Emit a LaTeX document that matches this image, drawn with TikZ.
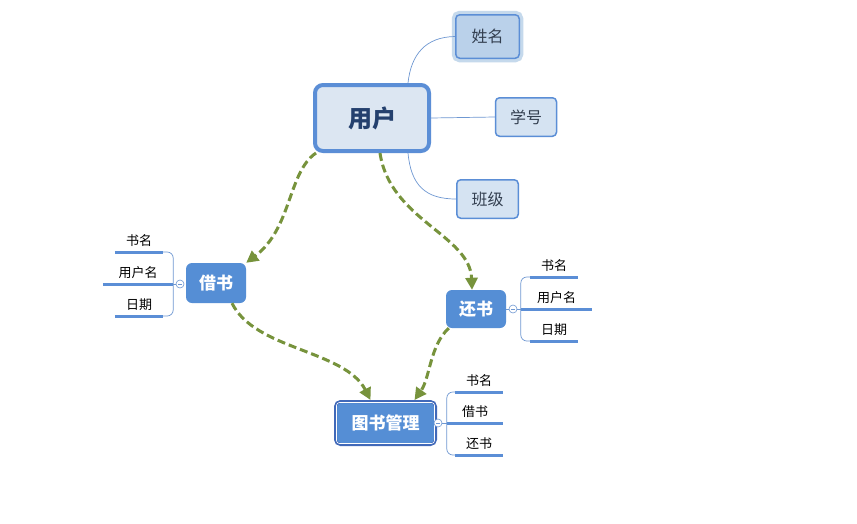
\documentclass[tikz,border=0pt]{standalone}
\usepackage{fontspec}
\setmainfont{Noto Sans CJK SC}
\usetikzlibrary{arrows.meta, positioning}
\definecolor{mainblue}{HTML}{5B8ED6}
\definecolor{stemblue}{HTML}{6F98D2}
\definecolor{userfill}{HTML}{DCE6F2}
\definecolor{boxfill}{HTML}{D5E3F2}
\definecolor{halo}{HTML}{C5D9EC}
\definecolor{topicblue}{HTML}{558ED5}
\definecolor{darkframe}{HTML}{4169B9}
\definecolor{olive}{HTML}{77933C}
\definecolor{usertext}{HTML}{24406E}
\definecolor{boxtext}{HTML}{333F50}

\begin{document}
\begin{tikzpicture}[
    x=1pt, y=-1pt,
    central/.style={draw=mainblue, fill=userfill, line width=4pt, rounded corners=8pt,
        minimum width=114pt, minimum height=66pt, text=usertext,
        font=\fontsize{24}{26}\selectfont\bfseries},
    attr/.style={draw=mainblue, fill=boxfill, line width=1.5pt, rounded corners=4pt,
        minimum width=61pt, minimum height=38.5pt, text=boxtext,
        font=\fontsize{16}{18}\selectfont},
    topic/.style={fill=topicblue, rounded corners=6pt, minimum width=60pt,
        minimum height=40pt, text=white, font=\fontsize{17}{19}\selectfont\bfseries},
    leaf/.style={anchor=south, inner xsep=0pt, inner ysep=4.5pt, text height=9.5pt,
        text depth=2pt, font=\fontsize{13}{15}\selectfont},
    fold/.style={circle, draw=stemblue, fill=white, minimum size=8pt, inner sep=0pt,
        line width=0.6pt, path picture={\draw[stemblue, line width=0.5pt]
        ([xshift=-2pt]path picture bounding box.center) --
        ([xshift=2pt]path picture bounding box.center);}},
    stem/.style={draw=stemblue, line width=0.7pt},
    underline/.style={draw=mainblue, line width=3pt},
    flow/.style={-{Triangle[length=12pt, width=12pt]}, draw=olive, line width=3pt,
        dash pattern=on 8pt off 4pt}
]
\fill[white] (0,0) rectangle (857,523);
\useasboundingbox (0,0) rectangle (857,523);

% User and its attributes
\node[central] (user) at (372,118) {用户};
\node[attr, minimum width=63.5pt, minimum height=43.5pt, fill=halo!90!mainblue,
    preaction={draw=halo, line width=8pt}] (name) at (487.5,36.5) {姓名};
\node[attr] (sid) at (526,117) {学号};
\node[attr, minimum width=61.5pt] (cls) at (487.5,199) {班级};

\draw[stem] ([xshift=36pt]user.north) .. controls (411,55) and (425,37) .. (name.west);
\draw[stem] (user.east) -- (sid.west);
\draw[stem] ([xshift=36pt]user.south) .. controls (411,185) and (425,199) .. (cls.west);

% Borrow / return topics
\node[topic] (borrow) at (216,283) {借书};
\node[topic, minimum height=38pt] (return) at (476,309) {还书};

% Management topic
\node[topic, draw=darkframe, line width=3pt, rounded corners=5pt,
    minimum width=100pt, minimum height=43pt] (mgmt) at (385.5,423) {图书管理};
\draw[white, line width=0.6pt, rounded corners=3pt]
    ([shift={(2.5pt,-2.5pt)}]mgmt.north west) rectangle ([shift={(-2.5pt,2.5pt)}]mgmt.south east);

% Borrow details
\node[leaf, minimum width=48pt] (bname) at (139,252) {书名};
\node[leaf, minimum width=70pt] (buser) at (138,284) {用户名};
\node[leaf, minimum width=48pt] (bdate) at (139,316) {日期};
\draw[underline] (bname.south west) -- (bname.south east);
\draw[underline] (buser.south west) -- (buser.south east);
\draw[underline] (bdate.south west) -- (bdate.south east);
\draw[stem, rounded corners=6pt] (bname.south east) -| (buser.south east) |- (bdate.south east);
\node[fold] (borrowfold) at (180,284) {};
\draw[stem] (buser.south east) -- (borrowfold);

% Return details
\node[leaf, minimum width=48pt] (rname) at (554,277) {书名};
\node[leaf, minimum width=71pt] (ruser) at (556.5,309) {用户名};
\node[leaf, minimum width=48pt] (rdate) at (554,341) {日期};
\draw[underline] (rname.south west) -- (rname.south east);
\draw[underline] (ruser.south west) -- (ruser.south east);
\draw[underline] (rdate.south west) -- (rdate.south east);
\draw[stem, rounded corners=6pt] (rname.south west) -| (ruser.south west) |- (rdate.south west);
\draw[stem] (return.east) -- (ruser.south west);
\node[fold] (returnfold) at (513,309) {};

% Management details
\node[leaf, minimum width=48pt] (mname) at (479,392) {书名};
\node[leaf, minimum width=56pt] (mborrow) at (475,423) {借书};
\node[leaf, minimum width=48pt] (mreturn) at (479,455) {还书};
\draw[underline] (mname.south west) -- (mname.south east);
\draw[underline] (mborrow.south west) -- (mborrow.south east);
\draw[underline] (mreturn.south west) -- (mreturn.south east);
\draw[stem, rounded corners=6pt] (mname.south west) -| (mborrow.south west) |- (mreturn.south west);
\draw[stem] (mgmt.east) -- (mborrow.south west);
\node[fold] (mgmtfold) at (438,423) {};

% Flow arrows
\draw[flow] ([xshift=3pt]user.south west) .. controls (288,172) and (292,228) .. (borrow.north east);
\draw[flow] ([xshift=8pt]user.south) .. controls (390,220) and (470,235) .. ([xshift=-4pt]return.north);
\draw[flow] ([xshift=16pt]borrow.south) .. controls (255,350) and (345,350) .. ([xshift=-15pt]mgmt.north);
\draw[flow] ([xshift=3pt]return.south west) .. controls (430,345) and (430,378) .. ([xshift=29pt]mgmt.north);

\end{tikzpicture}
\end{document}
